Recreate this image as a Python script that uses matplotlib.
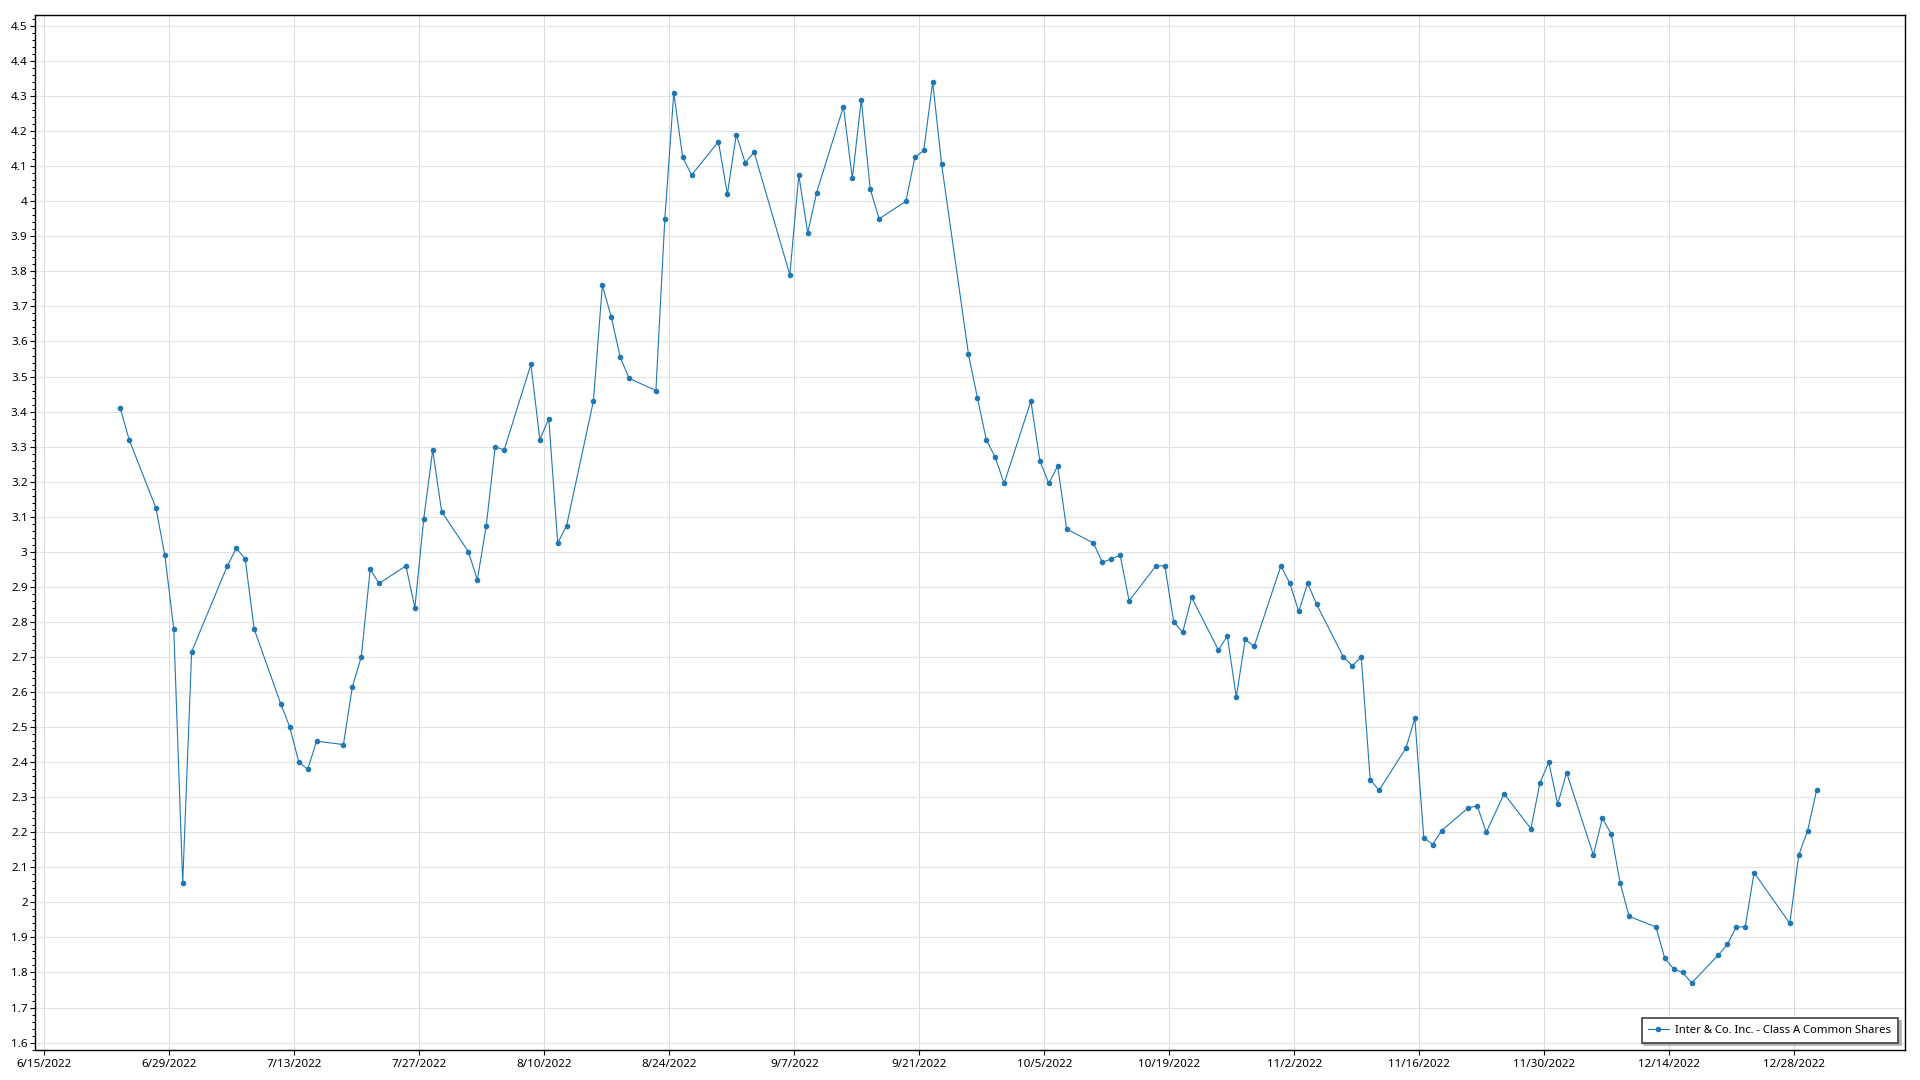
import datetime as dt
import matplotlib
matplotlib.use("Agg")
import matplotlib.pyplot as plt
import matplotlib.dates as mdates
from matplotlib.ticker import MultipleLocator, FuncFormatter

plt.rcParams['font.family'] = ['Noto Sans', 'DejaVu Sans']

series_name = "Inter & Co. Inc. - Class A Common Shares"

dates = [
    "2022-06-23", "2022-06-24", "2022-06-27", "2022-06-28", "2022-06-29", "2022-06-30",
    "2022-07-01", "2022-07-05", "2022-07-06", "2022-07-07", "2022-07-08", "2022-07-11",
    "2022-07-12", "2022-07-13", "2022-07-14", "2022-07-15", "2022-07-18", "2022-07-19",
    "2022-07-20", "2022-07-21", "2022-07-22", "2022-07-25", "2022-07-26", "2022-07-27",
    "2022-07-28", "2022-07-29", "2022-08-01", "2022-08-02", "2022-08-03", "2022-08-04",
    "2022-08-05", "2022-08-08", "2022-08-09", "2022-08-10", "2022-08-11", "2022-08-12",
    "2022-08-15", "2022-08-16", "2022-08-17", "2022-08-18", "2022-08-19", "2022-08-22",
    "2022-08-23", "2022-08-24", "2022-08-25", "2022-08-26", "2022-08-29", "2022-08-30",
    "2022-08-31", "2022-09-01", "2022-09-02", "2022-09-06", "2022-09-07", "2022-09-08",
    "2022-09-09", "2022-09-12", "2022-09-13", "2022-09-14", "2022-09-15", "2022-09-16",
    "2022-09-19", "2022-09-20", "2022-09-21", "2022-09-22", "2022-09-23", "2022-09-26",
    "2022-09-27", "2022-09-28", "2022-09-29", "2022-09-30", "2022-10-03", "2022-10-04",
    "2022-10-05", "2022-10-06", "2022-10-07", "2022-10-10", "2022-10-11", "2022-10-12",
    "2022-10-13", "2022-10-14", "2022-10-17", "2022-10-18", "2022-10-19", "2022-10-20",
    "2022-10-21", "2022-10-24", "2022-10-25", "2022-10-26", "2022-10-27", "2022-10-28",
    "2022-10-31", "2022-11-01", "2022-11-02", "2022-11-03", "2022-11-04", "2022-11-07",
    "2022-11-08", "2022-11-09", "2022-11-10", "2022-11-11", "2022-11-14", "2022-11-15",
    "2022-11-16", "2022-11-17", "2022-11-18", "2022-11-21", "2022-11-22", "2022-11-23",
    "2022-11-25", "2022-11-28", "2022-11-29", "2022-11-30", "2022-12-01", "2022-12-02",
    "2022-12-05", "2022-12-06", "2022-12-07", "2022-12-08", "2022-12-09", "2022-12-12",
    "2022-12-13", "2022-12-14", "2022-12-15", "2022-12-16", "2022-12-19", "2022-12-20",
    "2022-12-21", "2022-12-22", "2022-12-23", "2022-12-27", "2022-12-28", "2022-12-29",
    "2022-12-30",
]

prices = [
    3.41, 3.32, 3.125, 2.99, 2.78, 2.055,
    2.715, 2.96, 3.01, 2.98, 2.78, 2.565,
    2.50, 2.40, 2.38, 2.46, 2.45, 2.615,
    2.70, 2.95, 2.91, 2.96, 2.84, 3.095,
    3.29, 3.115, 3.00, 2.92, 3.075, 3.30,
    3.29, 3.535, 3.32, 3.38, 3.025, 3.075,
    3.43, 3.76, 3.67, 3.555, 3.495, 3.46,
    3.95, 4.31, 4.125, 4.075, 4.17, 4.02,
    4.19, 4.11, 4.14, 3.79, 4.075, 3.91,
    4.025, 4.27, 4.065, 4.29, 4.035, 3.95,
    4.00, 4.125, 4.145, 4.34, 4.105, 3.565,
    3.44, 3.32, 3.27, 3.195, 3.43, 3.26,
    3.195, 3.245, 3.065, 3.025, 2.97, 2.98,
    2.99, 2.86, 2.96, 2.96, 2.80, 2.77,
    2.87, 2.72, 2.76, 2.585, 2.75, 2.73,
    2.96, 2.91, 2.83, 2.91, 2.85, 2.70,
    2.675, 2.70, 2.35, 2.32, 2.44, 2.525,
    2.185, 2.165, 2.205, 2.27, 2.275, 2.20,
    2.31, 2.21, 2.34, 2.40, 2.28, 2.37,
    2.135, 2.24, 2.195, 2.055, 1.96, 1.93,
    1.84, 1.81, 1.80, 1.77, 1.85, 1.88,
    1.93, 1.93, 2.085, 1.94, 2.135, 2.205,
    2.32,
]

# points sit at midday of each trading day
x = [dt.datetime.strptime(d, "%Y-%m-%d") + dt.timedelta(hours=12) for d in dates]

start = dt.datetime(2022, 6, 15)
tick_dates = [start + dt.timedelta(days=14 * k) for k in range(15)]

fig = plt.figure(figsize=(19.2, 10.8), dpi=100)
ax = fig.add_axes([35.3 / 1920, 29.7 / 1080, 1869.7 / 1920, 1035.0 / 1080])

color = "#1f77b4"
ax.plot(x, prices, color=color, linewidth=0.8, marker="o", markersize=4,
        markeredgewidth=0, label=series_name, zorder=3)

ax.set_xlim(start - dt.timedelta(days=1.01), start + dt.timedelta(days=208.4))
ax.set_ylim(1.578, 4.5305)

ax.set_xticks(tick_dates)
ax.xaxis.set_major_formatter(FuncFormatter(
    lambda v, pos: "{d.month}/{d.day}/{d.year}".format(d=mdates.num2date(v))))
ax.yaxis.set_major_locator(MultipleLocator(0.1))
ax.yaxis.set_minor_locator(MultipleLocator(0.02))
ax.yaxis.set_major_formatter(FuncFormatter(lambda v, pos: "{:g}".format(round(v, 2))))

ax.grid(axis="y", which="major", color="#e4e4e4", linewidth=0.9)
ax.grid(axis="x", which="major", color="#dadada", linewidth=0.7)
ax.set_axisbelow(True)

ax.tick_params(axis="both", which="major", length=3.5, width=0.8, labelsize=8.4,
               colors="black", pad=2)
ax.tick_params(axis="y", which="minor", length=2, width=0.7)
ax.tick_params(axis="x", which="major", pad=2.5)
for s in ax.spines.values():
    s.set_linewidth(1.0)
    s.set_color("black")

leg = ax.legend(loc="lower right", bbox_to_anchor=(1898 / 1920, 37.3 / 1080),
                bbox_transform=fig.transFigure, borderaxespad=0, fancybox=False,
                shadow={"color": "0.7", "alpha": 1.0}, fontsize=8.1, handlelength=1.8,
                borderpad=0.6, handletextpad=0.6, framealpha=1)
leg.get_frame().set_edgecolor("#404040")
leg.get_frame().set_linewidth(1.2)

fig.savefig("out.png", dpi=100)
